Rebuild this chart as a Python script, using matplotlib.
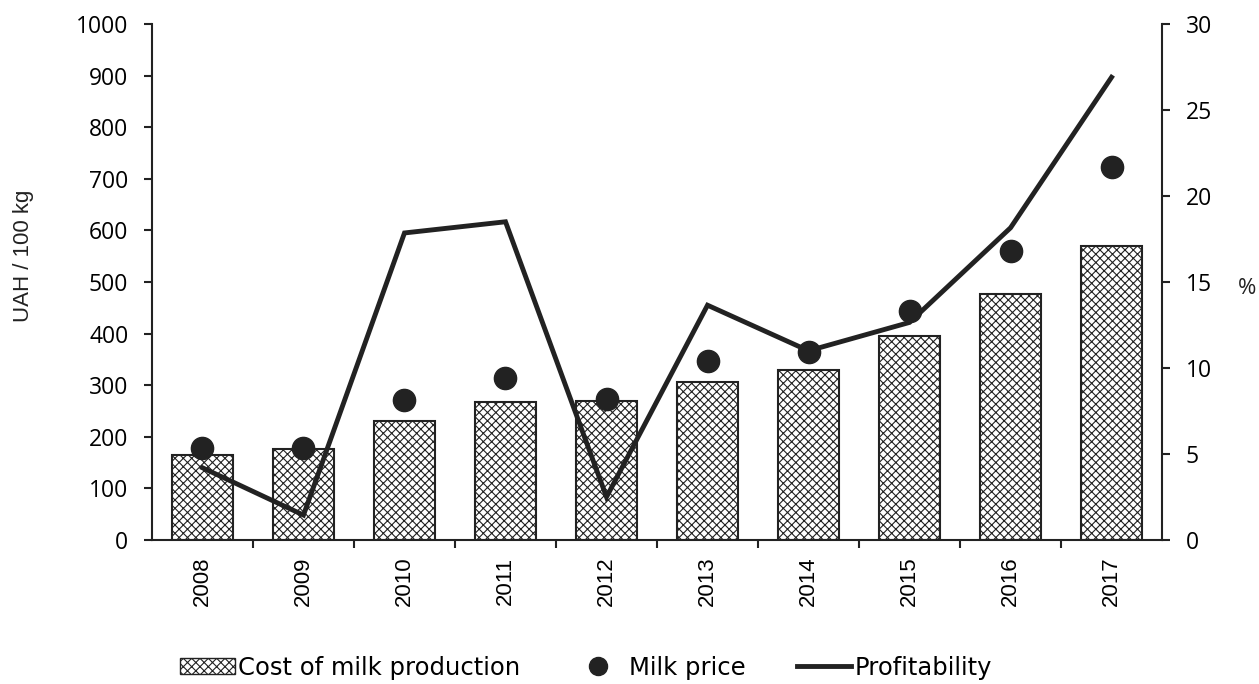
import matplotlib
matplotlib.use("Agg")
import matplotlib.pyplot as plt
from matplotlib.lines import Line2D
from matplotlib.patches import Patch
import numpy as np

years = ["2008", "2009", "2010", "2011", "2012", "2013", "2014", "2015", "2016", "2017"]
cost = [165, 176, 231, 267, 269, 306, 329, 395, 477, 570]
price = [178, 178, 271, 314, 273, 347, 364, 444, 560, 723]
profitability = [4.2, 1.45, 17.85, 18.5, 2.5, 13.65, 11.0, 12.65, 18.15, 26.9]

plt.rcParams['font.family'] = ['Open Sans', 'DejaVu Sans']
plt.rcParams['hatch.linewidth'] = 0.8
INK = '#222222'

fig = plt.figure(figsize=(12.59, 6.84), dpi=100)
ax = fig.add_axes([0.1207, 0.2105, 0.8023, 0.7545])
x = np.arange(len(years))

# production cost bars on the left (UAH) axis
ax.bar(x, cost, width=0.6, facecolor='white', edgecolor=INK,
       linewidth=1.5, hatch='xxxx', zorder=2)

ax.set_xlim(-0.5, len(years) - 0.5)
ax.set_ylim(0, 1000)
ax.set_yticks(range(0, 1001, 100))
ax.set_xticks(x)
ax.set_xticklabels(years, rotation=90, fontsize=16, family='Liberation Sans')
ax.set_xticks(np.arange(-0.5, len(years), 1.0)[1:-1], minor=True)
ax.tick_params(axis='x', which='major', length=0, pad=12)
ax.tick_params(axis='x', which='minor', length=6, width=1.5, color=INK)
ax.tick_params(axis='y', length=6, width=1.5, labelsize=16.5, color=INK, pad=11)
for s in ['top', 'right']:
    ax.spines[s].set_visible(False)
for s in ['left', 'bottom']:
    ax.spines[s].set_linewidth(1.5)
    ax.spines[s].set_color(INK)

# percentage axis on the right, drawn above the bars
ax2 = ax.twinx()
ax2.plot(x, profitability, color=INK, linewidth=3.5, zorder=3,
         solid_joinstyle='miter')
ax2.plot(x, price, 'o', color=INK, markersize=16, zorder=4,
         transform=ax.transData)
ax2.set_ylim(0, 30)
ax2.set_yticks(range(0, 31, 5))
ax2.tick_params(axis='y', length=6, width=1.5, labelsize=16.5, color=INK, pad=11)
for s in ['top', 'left', 'bottom']:
    ax2.spines[s].set_visible(False)
ax2.spines['right'].set_linewidth(1.5)
ax2.spines['right'].set_color(INK)

fig.text(23 / 1259, 1 - 256 / 684, "UAH / 100 kg", rotation=90, fontsize=16,
         family='Liberation Sans', ha='center', va='center', color=INK)
fig.text(1247 / 1259, 1 - 289 / 684, "%", fontsize=16, ha='center',
         va='center', color=INK)

handles = [
    Patch(facecolor='white', edgecolor=INK, hatch='xxxx', linewidth=1),
    Line2D([], [], marker='o', linestyle='none', color=INK, markersize=13),
    Line2D([], [], color=INK, linewidth=3.5),
]
labels = ["Cost of milk production", "Milk price", "Profitability"]
fig.legend(handles, labels, loc='center left', bbox_to_anchor=(180 / 1259, 0.024),
           ncol=3, frameon=False, borderpad=0, borderaxespad=0,
           handlelength=2.26, handleheight=0.6, handletextpad=0.12,
           columnspacing=2.1, prop={'family': 'DejaVu Sans', 'size': 17.5})

fig.savefig("out.png", dpi=100)
